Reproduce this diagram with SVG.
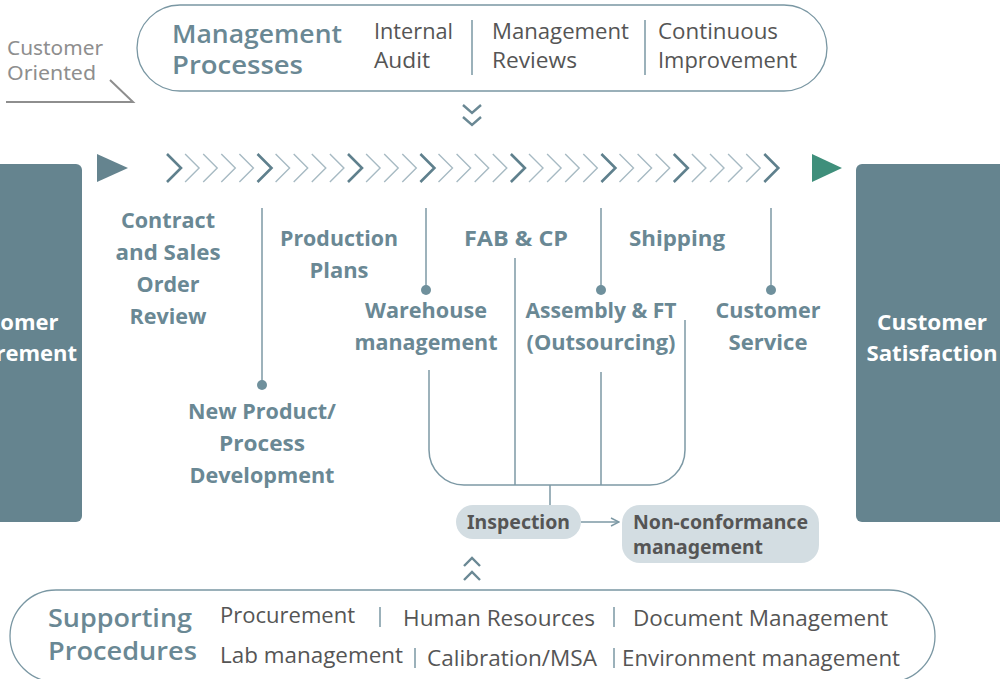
<svg xmlns="http://www.w3.org/2000/svg" xmlns:xlink="http://www.w3.org/1999/xlink" width="1000" height="679" viewBox="0 0 1000 679">
<style>
.pill{fill:#fff;stroke:#7a97a3;stroke-width:1.3}
.title{font-family:"Open Sans","Noto Sans",sans-serif;font-weight:600;font-size:25px;fill:#6a8894}
.item{font-family:"Open Sans","Noto Sans",sans-serif;font-size:21px;fill:#555}
.div{stroke:#7a97a3;stroke-width:1.5}
.lbl{font-family:"Open Sans","Noto Sans",sans-serif;font-weight:700;font-size:21px;fill:#6a8894;text-anchor:middle}
.boxt{font-family:"Open Sans","Noto Sans",sans-serif;font-weight:700;font-size:22px;fill:#fff;text-anchor:middle}
.box{fill:#65848f}
.light{fill:none;stroke:#a7bac3;stroke-width:1.4}
.dark{fill:none;stroke:#5f808d;stroke-width:2.6}
.conn{fill:none;stroke:#7d99a5;stroke-width:1.5}
.dot{fill:#6f909c}
.tag{fill:#d3dde2}
.tagt{font-family:"Noto Sans","Open Sans",sans-serif;font-weight:700;font-size:19px;fill:#555}
.dchev{fill:none;stroke:#6a8894;stroke-width:2.4}
.co{font-family:"Noto Sans","Open Sans",sans-serif;font-size:19px;fill:#8e8e8e}
</style>
<defs>
<path id="chev" d="M0,-14 L14,0 L0,14"/>
<marker id="open" viewBox="0 0 10 10" refX="9" refY="5" markerWidth="10" markerHeight="10" markerUnits="userSpaceOnUse" orient="auto">
<path d="M1,1 L9,5 L1,9" fill="none" stroke="#7d99a5" stroke-width="1.5"/>
</marker>
</defs>

<g id="customer-oriented">
<text class="co" x="7" y="55" textLength="96" lengthAdjust="spacingAndGlyphs">Customer</text>
<text class="co" x="7" y="80" textLength="89" lengthAdjust="spacingAndGlyphs">Oriented</text>
<polyline points="6,102 133,102 110,80" fill="none" stroke="#8e8e8e" stroke-width="2"/>
</g>

<g id="management-processes">
<rect class="pill" x="137" y="5" width="690" height="86" rx="43" ry="43"/>
<text class="title" x="172" y="43" textLength="170" lengthAdjust="spacingAndGlyphs">Management</text>
<text class="title" x="172" y="74" textLength="131" lengthAdjust="spacingAndGlyphs">Processes</text>
<text class="item" x="374" y="39" textLength="79" lengthAdjust="spacingAndGlyphs">Internal</text>
<text class="item" x="374" y="68" textLength="56" lengthAdjust="spacingAndGlyphs">Audit</text>
<line class="div" x1="472" y1="20" x2="472" y2="75"/>
<text class="item" x="492" y="39" textLength="137" lengthAdjust="spacingAndGlyphs">Management</text>
<text class="item" x="492" y="68" textLength="85" lengthAdjust="spacingAndGlyphs">Reviews</text>
<line class="div" x1="645" y1="20" x2="645" y2="75"/>
<text class="item" x="658" y="39" textLength="120" lengthAdjust="spacingAndGlyphs">Continuous</text>
<text class="item" x="658" y="68" textLength="139" lengthAdjust="spacingAndGlyphs">Improvement</text>
</g>

<g id="down-chevrons">
<path class="dchev" d="M463,105 L472,113 L481,105 M463,117 L472,125 L481,117"/>
</g>

<g id="customer-requirement">
<rect class="box" x="-72" y="164" width="154" height="358" rx="6"/>
<text class="boxt" x="5" y="330">Customer</text>
<text class="boxt" x="5" y="361">Requirement</text>
</g>

<g id="customer-satisfaction">
<rect class="box" x="856" y="164" width="154" height="358" rx="6"/>
<text class="boxt" x="932" y="330" textLength="110" lengthAdjust="spacingAndGlyphs">Customer</text>
<text class="boxt" x="932" y="361" textLength="131" lengthAdjust="spacingAndGlyphs">Satisfaction</text>
</g>

<g id="flow-arrow">
<polygon points="97,154 128,168 97,182" fill="#65848f"/>
<polygon points="812,154 842,168 812,182" fill="#3f8f7b"/>
<use xlink:href="#chev" x="167" y="168" class="dark"/>
<use xlink:href="#chev" x="185.1" y="168" class="light"/>
<use xlink:href="#chev" x="203.2" y="168" class="light"/>
<use xlink:href="#chev" x="221.3" y="168" class="light"/>
<use xlink:href="#chev" x="239.4" y="168" class="light"/>
<use xlink:href="#chev" x="257.5" y="168" class="dark"/>
<use xlink:href="#chev" x="275.6" y="168" class="light"/>
<use xlink:href="#chev" x="293.7" y="168" class="light"/>
<use xlink:href="#chev" x="311.8" y="168" class="light"/>
<use xlink:href="#chev" x="329.9" y="168" class="light"/>
<use xlink:href="#chev" x="348" y="168" class="dark"/>
<use xlink:href="#chev" x="366.1" y="168" class="light"/>
<use xlink:href="#chev" x="384.2" y="168" class="light"/>
<use xlink:href="#chev" x="402.3" y="168" class="light"/>
<use xlink:href="#chev" x="420.4" y="168" class="dark"/>
<use xlink:href="#chev" x="438.5" y="168" class="light"/>
<use xlink:href="#chev" x="456.6" y="168" class="light"/>
<use xlink:href="#chev" x="474.7" y="168" class="light"/>
<use xlink:href="#chev" x="492.8" y="168" class="light"/>
<use xlink:href="#chev" x="510.9" y="168" class="dark"/>
<use xlink:href="#chev" x="529" y="168" class="light"/>
<use xlink:href="#chev" x="547.1" y="168" class="light"/>
<use xlink:href="#chev" x="565.2" y="168" class="light"/>
<use xlink:href="#chev" x="583.3" y="168" class="light"/>
<use xlink:href="#chev" x="601.4" y="168" class="dark"/>
<use xlink:href="#chev" x="619.5" y="168" class="light"/>
<use xlink:href="#chev" x="637.6" y="168" class="light"/>
<use xlink:href="#chev" x="655.7" y="168" class="light"/>
<use xlink:href="#chev" x="673.8" y="168" class="dark"/>
<use xlink:href="#chev" x="691.9" y="168" class="light"/>
<use xlink:href="#chev" x="710" y="168" class="light"/>
<use xlink:href="#chev" x="728.1" y="168" class="light"/>
<use xlink:href="#chev" x="746.2" y="168" class="light"/>
<use xlink:href="#chev" x="764.3" y="168" class="dark"/>
</g>

<g id="connectors">
<line class="conn" x1="262" y1="208" x2="262" y2="385"/>
<line class="conn" x1="426" y1="208" x2="426" y2="290"/>
<line class="conn" x1="601" y1="208" x2="601" y2="290"/>
<line class="conn" x1="771" y1="208" x2="771" y2="290"/>
<circle class="dot" cx="262" cy="385" r="5"/>
<circle class="dot" cx="426" cy="290" r="5"/>
<circle class="dot" cx="601" cy="290" r="5"/>
<circle class="dot" cx="771" cy="290" r="5"/>
<path class="conn" d="M429,370 V450 A35,35 0 0 0 464,485 H650 A35,35 0 0 0 685,450 V320"/>
<line class="conn" x1="515" y1="258" x2="515" y2="485"/>
<line class="conn" x1="601" y1="372" x2="601" y2="485"/>
<line class="conn" x1="550" y1="485" x2="550" y2="505"/>
<line class="conn" x1="581" y1="522" x2="619" y2="522" marker-end="url(#open)"/>
</g>

<g id="contract-review">
<text class="lbl" x="168" y="228" textLength="94" lengthAdjust="spacingAndGlyphs">Contract</text>
<text class="lbl" x="168" y="260" textLength="105" lengthAdjust="spacingAndGlyphs">and Sales</text>
<text class="lbl" x="168" y="292" textLength="63" lengthAdjust="spacingAndGlyphs">Order</text>
<text class="lbl" x="168" y="324" textLength="77" lengthAdjust="spacingAndGlyphs">Review</text>
</g>
<g id="production-plans">
<text class="lbl" x="339" y="246" textLength="118" lengthAdjust="spacingAndGlyphs">Production</text>
<text class="lbl" x="339" y="278" textLength="59" lengthAdjust="spacingAndGlyphs">Plans</text>
</g>
<g id="warehouse">
<text class="lbl" x="426" y="318" textLength="122" lengthAdjust="spacingAndGlyphs">Warehouse</text>
<text class="lbl" x="426" y="350" textLength="143" lengthAdjust="spacingAndGlyphs">management</text>
</g>
<g id="fab-cp">
<text class="lbl" x="516" y="246" textLength="104" lengthAdjust="spacingAndGlyphs">FAB &amp; CP</text>
</g>
<g id="shipping">
<text class="lbl" x="677" y="246" textLength="96" lengthAdjust="spacingAndGlyphs">Shipping</text>
</g>
<g id="assembly">
<text class="lbl" x="601" y="318" textLength="151" lengthAdjust="spacingAndGlyphs">Assembly &amp; FT</text>
<text class="lbl" x="601" y="350" textLength="149" lengthAdjust="spacingAndGlyphs">(Outsourcing)</text>
</g>
<g id="customer-service">
<text class="lbl" x="768" y="318" textLength="105" lengthAdjust="spacingAndGlyphs">Customer</text>
<text class="lbl" x="768" y="350" textLength="79" lengthAdjust="spacingAndGlyphs">Service</text>
</g>
<g id="npd">
<text class="lbl" x="262" y="419" textLength="148" lengthAdjust="spacingAndGlyphs">New Product/</text>
<text class="lbl" x="262" y="451" textLength="86" lengthAdjust="spacingAndGlyphs">Process</text>
<text class="lbl" x="262" y="483" textLength="145" lengthAdjust="spacingAndGlyphs">Development</text>
</g>

<g id="inspection">
<rect class="tag" x="456" y="505" width="125" height="34" rx="17"/>
<text class="tagt" x="467" y="529" textLength="103" lengthAdjust="spacingAndGlyphs">Inspection</text>
</g>
<g id="non-conformance">
<rect class="tag" x="622" y="505" width="197" height="58" rx="18"/>
<text class="tagt" x="633" y="529" textLength="175" lengthAdjust="spacingAndGlyphs">Non-conformance</text>
<text class="tagt" x="633" y="554" textLength="130" lengthAdjust="spacingAndGlyphs">management</text>
</g>

<g id="up-chevrons">
<path class="dchev" d="M464,566 L472,558 L480,566 M464,580 L472,572 L480,580"/>
</g>

<g id="supporting-procedures">
<rect class="pill" x="10" y="590" width="925" height="92" rx="46" ry="46"/>
<text class="title" x="48" y="627" textLength="144" lengthAdjust="spacingAndGlyphs">Supporting</text>
<text class="title" x="48" y="660" textLength="149" lengthAdjust="spacingAndGlyphs">Procedures</text>
<text class="item" x="220" y="623" textLength="135" lengthAdjust="spacingAndGlyphs">Procurement</text>
<line class="div" x1="380" y1="607" x2="380" y2="627"/>
<text class="item" x="403" y="626" textLength="192" lengthAdjust="spacingAndGlyphs">Human Resources</text>
<line class="div" x1="614" y1="607" x2="614" y2="627"/>
<text class="item" x="633" y="626" textLength="255" lengthAdjust="spacingAndGlyphs">Document Management</text>
<text class="item" x="220" y="663" textLength="183" lengthAdjust="spacingAndGlyphs">Lab management</text>
<line class="div" x1="415" y1="648" x2="415" y2="668"/>
<text class="item" x="427" y="666" textLength="170" lengthAdjust="spacingAndGlyphs">Calibration/MSA</text>
<line class="div" x1="614" y1="648" x2="614" y2="668"/>
<text class="item" x="622" y="666" textLength="278" lengthAdjust="spacingAndGlyphs">Environment management</text>
</g>
</svg>
